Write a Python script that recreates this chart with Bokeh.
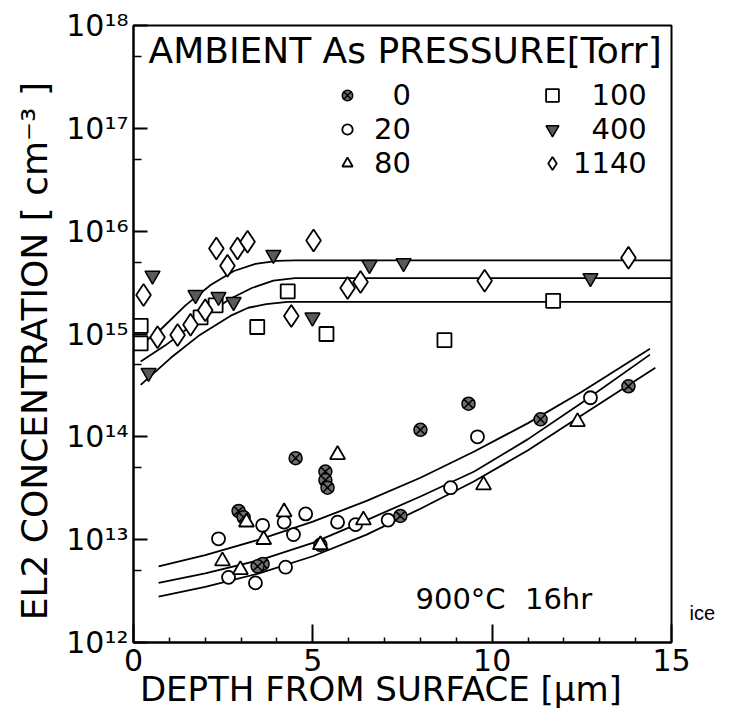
from bokeh.plotting import figure
from bokeh.models import FixedTicker, CustomJSTickFormatter, Label, Legend, LegendItem
from bokeh.embed import file_html
from bokeh.resources import INLINE

# ---------------- data ----------------
# depth [um] and EL2 concentration [cm^-3] per ambient As pressure [Torr]
p0_x = [4.52, 5.35, 5.35, 5.41, 2.93, 3.07, 3.6, 3.46, 7.44, 8.0, 9.34, 11.35, 13.8, 5.21]
p0_y = [6.2e13, 4.6e13, 3.8e13, 3.2e13, 1.9e13, 1.65e13, 5.8e12, 5.5e12, 1.7e13, 1.17e14, 2.1e14, 1.48e14, 3.1e14, 8.9e12]

p20_x = [2.37, 4.8, 3.6, 4.2, 4.46, 5.69, 2.65, 3.4, 4.24, 7.1, 8.84, 9.59, 12.74, 6.19]
p20_y = [1.02e13, 1.78e13, 1.38e13, 1.48e13, 1.12e13, 1.48e13, 4.3e12, 3.8e12, 5.4e12, 1.55e13, 3.2e13, 1.0e14, 2.4e14, 1.4e13]

p80_x = [5.69, 3.15, 4.2, 3.63, 6.41, 2.48, 2.98, 5.21, 9.76, 12.38]
p80_y = [6.7e13, 1.48e13, 1.86e13, 1.0e13, 1.55e13, 6.2e12, 5.1e12, 8.9e12, 3.4e13, 1.4e14]

p100_x = [0.2, 0.2, 3.45, 4.3, 5.38, 8.67, 11.7, 1.87, 2.29]
p100_y = [8.1e14, 1.2e15, 1.17e15, 2.6e15, 1.0e15, 8.7e14, 2.1e15, 1.45e15, 1.9e15]

p400_x = [0.53, 0.42, 1.73, 2.37, 2.79, 3.9, 4.99, 6.58, 7.53, 12.74]
p400_y = [3.7e15, 4.2e14, 2.4e15, 2.3e15, 2.05e15, 5.9e15, 1.45e15, 4.7e15, 4.9e15, 3.5e15]

p1140_x = [0.28, 0.67, 1.23, 1.59, 2.0, 2.31, 2.62, 2.9, 3.18, 5.02, 4.4, 5.97, 6.33, 9.79, 13.8]
p1140_y = [2.4e15, 9.3e14, 9.8e14, 1.23e15, 1.7e15, 6.8e15, 4.6e15, 6.8e15, 7.9e15, 8.1e15, 1.5e15, 2.8e15, 3.2e15, 3.3e15, 5.5e15]

# profile curves
fit_a_x = [0.2, 0.75, 1.45, 2.15, 2.8, 3.4, 4.0, 4.5, 15.0]
fit_a_y = [7.8e14, 1.1e15, 1.9e15, 3.0e15, 4.1e15, 4.8e15, 5.15e15, 5.2e15, 5.2e15]
fit_b_x = [0.2, 0.9, 1.85, 2.7, 3.3, 3.9, 4.5, 15.0]
fit_b_y = [5.4e14, 7.8e14, 1.4e15, 2.2e15, 2.8e15, 3.3e15, 3.5e15, 3.5e15]
fit_c_x = [0.2, 1.05, 1.85, 2.7, 3.2, 3.7, 4.3, 15.0]
fit_c_y = [3.2e14, 5.9e14, 9.8e14, 1.5e15, 1.8e15, 1.95e15, 2.05e15, 2.05e15]

fit_d_x = [0.7, 2.0, 3.5, 5.0, 6.5, 8.0, 9.5, 11.0, 12.5, 14.4]
fit_d_y = [5.5e12, 7.06e12, 1.0e13, 1.5e13, 2.38e13, 4.0e13, 7.2e13, 1.36e14, 2.74e14, 7.2e14]
fit_e_x = [0.7, 2.0, 3.5, 5.0, 6.5, 8.0, 9.5, 11.0, 12.5, 14.4]
fit_e_y = [3.8e12, 4.7e12, 6.3e12, 9.3e12, 1.55e13, 2.63e13, 4.6e13, 9.5e13, 2.14e14, 6.3e14]
fit_f_x = [0.7, 2.0, 3.5, 5.0, 6.5, 8.0, 9.5, 11.0, 12.5, 14.55]
fit_f_y = [2.8e12, 3.47e12, 4.7e12, 6.9e12, 1.12e13, 2.0e13, 3.7e13, 7.4e13, 1.62e14, 4.7e14]

x_ticks = [0, 5, 10, 15]
x_minor = [1, 2, 3, 4, 6, 7, 8, 9, 11, 12, 13, 14]
y_ticks = [1e12, 1e13, 1e14, 1e15, 1e16, 1e17, 1e18]
y_minor = [5e12, 5e13, 5e14, 5e15, 5e16, 5e17]
y_tick_labels = ["10\u00b9\u00b2", "10\u00b9\u00b3", "10\u00b9\u2074", "10\u00b9\u2075",
                 "10\u00b9\u2076", "10\u00b9\u2077", "10\u00b9\u2078"]

legend_title = "AMBIENT As PRESSURE[Torr]"
legend_labels_1 = ["\u20070", "20", "80"]
legend_labels_2 = ["\u2007100", "\u2007400", "1140"]
note_text = "900\u00b0C\u2002\u200616hr"
x_title = "DEPTH FROM SURFACE [\u03bcm]\u2007\u2007"
y_title = "EL2 CONCENTRATION [ cm\u207b\u00b3 ]\u2007\u2008"
FONT = "DejaVu Sans"

# ---------------- figure ----------------
p = figure(width=753, height=724, x_range=(0, 15), y_range=(1e12, 1e18), y_axis_type="log",
           output_backend="svg", toolbar_location=None,
           min_border_left=133, min_border_right=82, min_border_top=25, min_border_bottom=82)
p.xgrid.visible = False
p.ygrid.visible = False
p.outline_line_color = "black"
p.outline_line_width = 2
p.background_fill_color = "white"
p.border_fill_color = "white"

p.xaxis.ticker = FixedTicker(ticks=x_ticks, minor_ticks=x_minor)
p.yaxis.ticker = FixedTicker(ticks=y_ticks, minor_ticks=y_minor)
p.yaxis.formatter = CustomJSTickFormatter(args=dict(tvals=y_ticks, tlabels=y_tick_labels), code="""
for (let i = 0; i < tvals.length; i++) {
  if (Math.abs(Math.log10(tick) - Math.log10(tvals[i])) < 1e-6) return tlabels[i];
}
return "";
""")

for ax in (p.xaxis[0], p.yaxis[0]):
    ax.axis_line_width = 2
    ax.axis_line_color = "black"
    ax.major_tick_line_width = 2
    ax.minor_tick_line_width = 1.5
    ax.major_tick_out = 0
    ax.minor_tick_out = 0
    ax.major_label_text_font = FONT
    ax.axis_label_text_font = FONT
    ax.axis_label_text_font_style = "normal"
    ax.major_label_text_color = "black"
    ax.axis_label_text_color = "black"

p.xaxis.major_tick_in = 18
p.xaxis.minor_tick_in = 5
p.yaxis.major_tick_in = 14
p.yaxis.minor_tick_in = 8
p.xaxis.major_label_text_font_size = "30px"
p.yaxis.major_label_text_font_size = "30px"
p.xaxis.major_label_standoff = 6
p.yaxis.major_label_standoff = 5
p.xaxis.axis_label = x_title
p.yaxis.axis_label = y_title
p.xaxis.axis_label_text_font_size = "34px"
p.yaxis.axis_label_text_font_size = "36px"
p.xaxis.axis_label_standoff = -5
p.yaxis.axis_label_standoff = 8

# profile curves
for fx, fy in [(fit_a_x, fit_a_y), (fit_b_x, fit_b_y), (fit_c_x, fit_c_y),
               (fit_d_x, fit_d_y), (fit_e_x, fit_e_y), (fit_f_x, fit_f_y)]:
    p.line(fx, fy, line_color="black", line_width=1.8)

# data markers
r0 = p.scatter(p0_x, p0_y, marker="circle_x", size=13, line_color="black", line_width=1.5,
               fill_color="#6e6e6e")
r20 = p.scatter(p20_x, p20_y, marker="circle", size=13, line_color="black", line_width=1.8,
                fill_color="white")
r80 = p.scatter(p80_x, p80_y, marker="triangle", size=15, line_color="black", line_width=1.8,
                fill_color="white")
r100 = p.scatter(p100_x, p100_y, marker="square", size=14, line_color="black", line_width=1.8,
                 fill_color="white")
r400 = p.scatter(p400_x, p400_y, marker="inverted_triangle", size=15, line_color="black",
                 line_width=1.5, fill_color="#5a5a5a")
r1140 = p.scatter(p1140_x, p1140_y, marker="diamond", size=22, line_color="black", line_width=1.8,
                  fill_color="white")

# legend
common = dict(border_line_color=None, background_fill_alpha=0, padding=0, margin=0,
              label_text_font=FONT, label_text_font_size="29px", label_text_color="black",
              label_height=28, spacing=0)
leg1 = Legend(items=[LegendItem(label=legend_labels_1[0], renderers=[r0]),
                     LegendItem(label=legend_labels_1[1], renderers=[r20]),
                     LegendItem(label=legend_labels_1[2], renderers=[r80])],
              location=(201, 462), label_standoff=14, glyph_height=26, glyph_width=26, **common)
leg2 = Legend(items=[LegendItem(label=legend_labels_2[0], renderers=[r100]),
                     LegendItem(label=legend_labels_2[1], renderers=[r400]),
                     LegendItem(label=legend_labels_2[2], renderers=[r1140])],
              location=(403, 462), label_standoff=5, glyph_height=32, glyph_width=32, **common)
p.add_layout(leg1)
p.add_layout(leg2)

p.add_layout(Label(x=15, y=592, x_units="screen", y_units="screen", text=legend_title,
                   text_font=FONT, text_font_size="36px", text_baseline="middle",
                   text_color="black"))
p.add_layout(Label(x=282, y=44, x_units="screen", y_units="screen", text=note_text,
                   text_font=FONT, text_font_size="29px", text_baseline="middle",
                   text_color="black"))
p.add_layout(Label(x=18, y=30, x_units="screen", y_units="screen", text="ice",
                   text_font="Liberation Sans", text_font_size="20px", text_baseline="middle",
                   text_color="black"), "right")

open("out.html", "w").write(file_html(p, INLINE))
